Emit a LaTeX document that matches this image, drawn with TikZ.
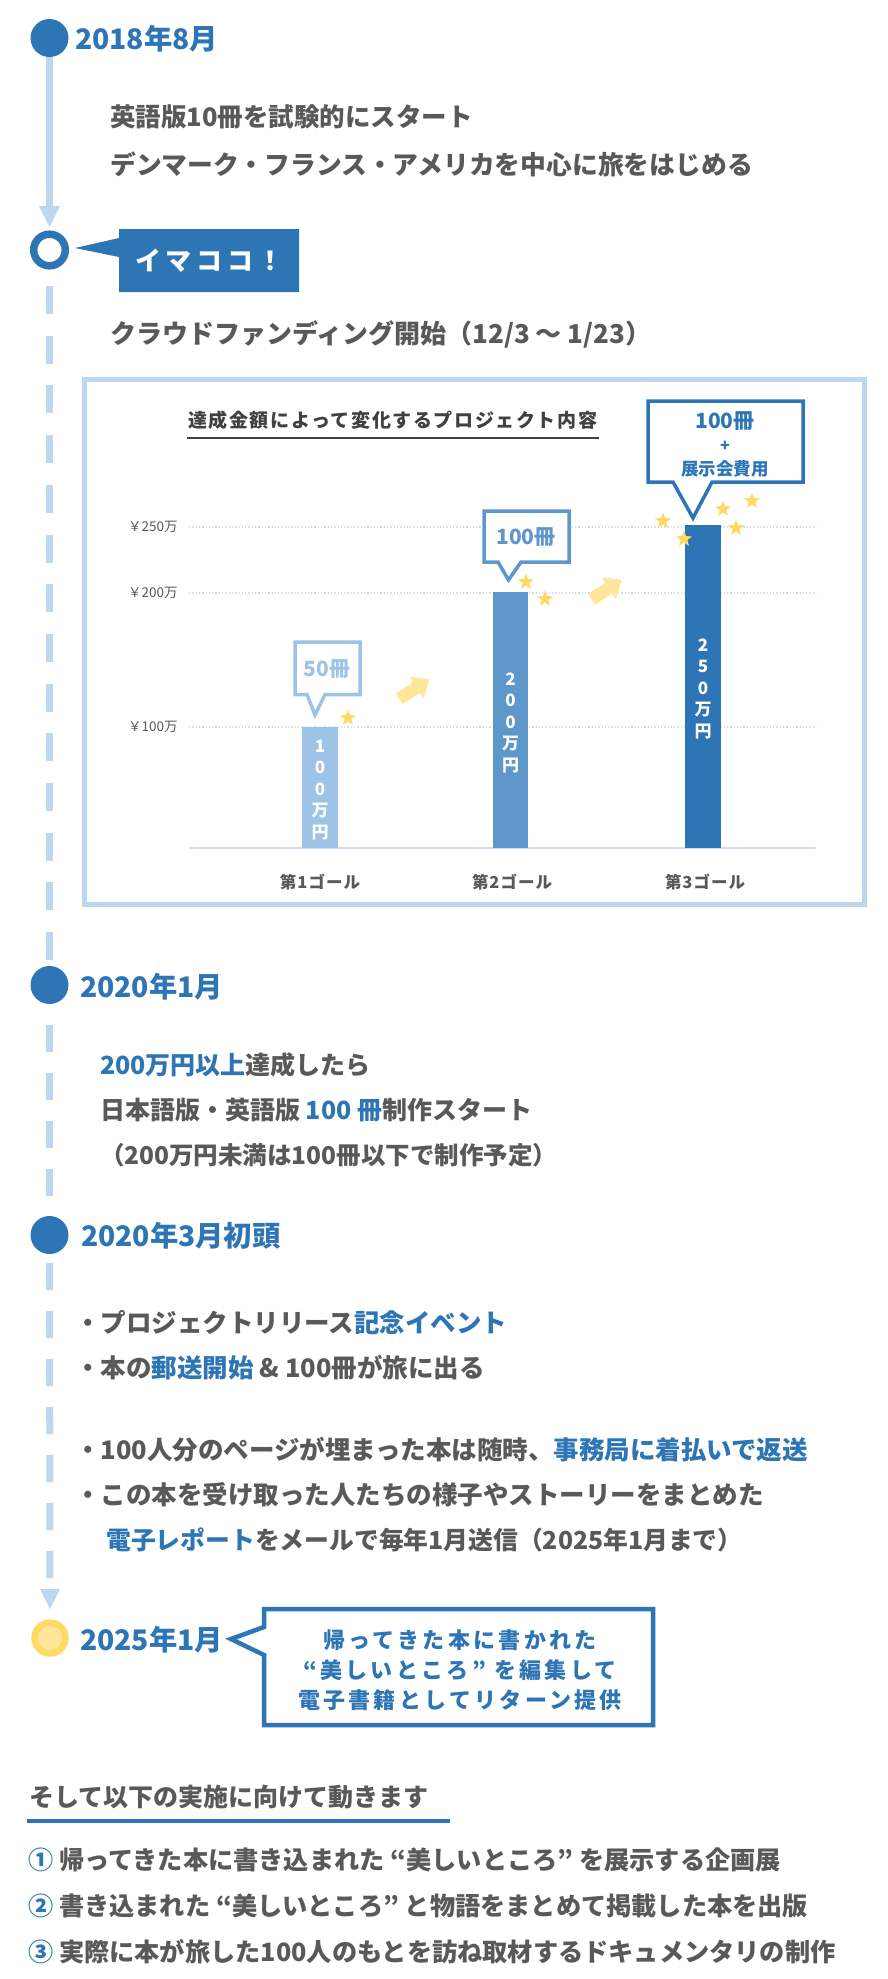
\documentclass[tikz,border=0pt]{standalone}
\usepackage{fontspec}
\setmainfont{Noto Sans CJK JP}
\usetikzlibrary{shapes.geometric}
\definecolor{tblue}{HTML}{2E75B6}
\definecolor{tgray}{HTML}{595959}
\definecolor{dgray}{HTML}{404040}
\definecolor{lineblue}{HTML}{BDD7EE}
\definecolor{barone}{HTML}{9DC3E6}
\definecolor{bartwo}{HTML}{5E97CA}
\definecolor{starc}{HTML}{FFD966}
\definecolor{arrowc}{HTML}{FFE699}
\definecolor{gridc}{HTML}{CFE0F0}
\tikzset{
  fs/.style={font=\fontsize{#1}{#1}\selectfont\bfseries},
  fsl/.style n args={2}{font=\fontsize{#1}{#1}\selectfont\bfseries\addfontfeatures{LetterSpace=#2}},
  heading/.style={fs=28.3, text=tblue, anchor=west, inner sep=0},
  body/.style={fs=25.5, text=tgray, anchor=west, inner sep=0},
  dot/.style={circle, fill=tblue, minimum size=38, inner sep=0},
  tline/.style={draw=lineblue, line width=7, line cap=butt},
  tdash/.style={tline, dash pattern=on 27 off 21},
  bar/.style={minimum width=36, inner sep=0, anchor=south},
  bartext/.style={font=\fontsize{17}{21.5}\selectfont\bfseries, text=white, align=center, inner sep=0},
  ylab/.style={font=\fontsize{13.5}{13.5}\selectfont, text=tgray, anchor=west, inner sep=0},
  goal/.style={fsl={16.5}{6}, text=tgray, inner sep=0},
  starn/.style={star, star points=5, star point ratio=2.4, fill=starc, inner sep=0, minimum size=17},
  item/.style={fs=25.2, text=tgray, anchor=west, inner sep=0},
}
\newcommand{\blockarrow}[2]{%
  \fill[arrowc, shift={#1}, rotate=#2] (-17.85,-6.3) -- (2.65,-6.3) -- (2.65,-13) -- (17.85,0) -- (2.65,13) -- (2.65,6.3) -- (-17.85,6.3) -- cycle;}
\begin{document}
\begin{tikzpicture}[x=1pt, y=-1pt]
\useasboundingbox (0,0) rectangle (888,1979);

% ---------- timeline circles ----------
\node[dot] (c1) at (49.5,38) {};
\node[circle, draw=tblue, line width=7.5, fill=white, minimum size=31.6, inner sep=0] (c2) at (49.5,250) {};
\node[dot] (c3) at (49.5,985) {};
\node[dot] (c4) at (49.5,1235) {};
\node[circle, draw=starc, line width=6.5, fill=arrowc, minimum size=31, inner sep=0] (c5) at (50,1638) {};

% ---------- timeline lines ----------
\coordinate (a1top) at (49.5,206);
\coordinate (a2top) at (50,1589);
\draw[tline] (c1.south) -- (a1top);
\fill[lineblue] (39,206) -- (60,206) -- (49.5,227) -- cycle;
\draw[tline, dash pattern=on 28 off 21.7, dash phase=33.2] (c2.south) -- (c3.north);
\draw[tdash, dash phase=27] (c3.south) -- (c4.north);
\draw[tdash, dash phase=39] (c4.south) -- (a2top);
\fill[lineblue] (40,1589) -- (60,1589) -- (50,1609) -- cycle;

% ---------- 2018 ----------
\node[heading] (h1) at (75,39) {2018年8月};
\node[body] (t1) at (110,117) {英語版10冊を試験的にスタート};
\node[body, fs=25.8] (t2) at (110,164) {デンマーク・フランス・アメリカを中心に旅をはじめる};

% ---------- imakoko ----------
\fill[tblue] (75,248) -- (119,238) -- (119,229) -- (299,229) -- (299,292) -- (119,292) -- (119,257) -- cycle;
\node[fsl={26}{18}, text=white, anchor=west, inner sep=0] (imakoko) at (135,261) {イマココ！};
\node[body, fs=26] (t3) at (110,334) {クラウドファンディング開始（12/3 ～ 1/23）};

% ---------- chart ----------
\draw[lineblue, line width=5, fill=white] (84.5,379) rectangle (864,904.5);
\node[fsl={19}{8.4}, text=dgray, anchor=west, inner sep=0] (ctitle) at (188,420) {達成金額によって変化するプロジェクト内容};
\draw[dgray, line width=2.5] (187,438) -- (599,438);

\foreach \yy in {527,593,727} \draw[gridc, line width=1.3, dotted] (189,\yy) -- (816,\yy);
\draw[gridc, line width=2] (189,848) -- (816,848);
\node[ylab] (y250) at (128,527) {￥250万};
\node[ylab] (y200) at (128,593) {￥200万};
\node[ylab] (y100) at (128,727) {￥100万};

\node[bar, fill=barone, minimum height=121] (b1) at (320,848) {};
\node[bar, fill=bartwo, minimum height=256, minimum width=35] (b2) at (510.5,848) {};
\node[bar, fill=tblue, minimum height=323] (b3) at (703,848) {};
\node[bartext] (bt1) at (320,790) {1\\0\\0\\万\\円};
\node[bartext] (bt2) at (510.5,723) {2\\0\\0\\万\\円};
\node[bartext] (bt3) at (703,689) {2\\5\\0\\万\\円};

\node[goal] (g1) at (320,882) {第1ゴール};
\node[goal] (g2) at (512,882) {第2ゴール};
\node[goal] (g3) at (705,882) {第3ゴール};

% callouts in chart
\draw[barone, line width=3.5, fill=white, line join=miter] (295,642) -- (360,642) -- (360,694.5) -- (325,694.5) -- (315,715) -- (307,694.5) -- (295,694.5) -- cycle;
\node[fs=21, text=barone, inner sep=0] (k1) at (327,669) {50冊};
\draw[bartwo, line width=3.5, fill=white, line join=miter] (484,511) -- (569,511) -- (569,562) -- (521,562) -- (508.5,580) -- (498,562) -- (484,562) -- cycle;
\node[fs=21, text=bartwo, inner sep=0] (k2) at (526,537) {100冊};
\draw[tblue, line width=3.5, fill=white, line join=miter] (648,401) -- (803,401) -- (803,482) -- (712,482) -- (693,518) -- (673,482) -- (648,482) -- cycle;
\node[fs=21, text=tblue, inner sep=0] (k3a) at (725,421) {100冊};
\node[fs=16, text=tblue, inner sep=0] (k3b) at (725,446) {+};
\node[fs=17.5, text=tblue, inner sep=0] (k3c) at (725,469) {展示会費用};

% stars
\node[starn] (s1) at (348,718) {};
\node[starn] (s2) at (526,582) {};
\node[starn] (s3) at (545,599) {};
\node[starn] (s4) at (663,521) {};
\node[starn] (s5) at (684,539) {};
\node[starn] (s6) at (723,509) {};
\node[starn] (s7) at (736,528) {};
\node[starn] (s8) at (752,501) {};

% arrows
\blockarrow{(414.3,689)}{33}
\blockarrow{(606.7,589.6)}{33}

% ---------- 2020/1 ----------
\node[heading] (h3) at (80,987) {2020年1月};
\node[body, fs=25] (t4) at (100,1065) {{\color{tblue}200万円以上}達成したら};
\node[body, fs=25] (t5) at (100,1110) {日本語版・英語版 {\color{tblue}100 冊}制作スタート};
\node[body, fs=24.5] (t6) at (100,1155) {（200万円未満は100冊以下で制作予定）};

% ---------- 2020/3 ----------
\node[heading] (h4) at (81,1236) {2020年3月初頭};
\node[body] (t7) at (75,1323) {・プロジェクトリリース{\color{tblue}記念イベント}};
\node[body] (t8) at (75,1368) {・本の{\color{tblue}郵送開始} \& 100冊が旅に出る};
\node[body] (t9) at (75,1450) {・100人分のページが埋まった本は随時、{\color{tblue}事務局に着払いで返送}};
\node[body] (t10) at (75,1495) {・この本を受け取った人たちの様子やストーリーをまとめた};
\node[body, fs=24.8] (t11) at (106,1540) {{\color{tblue}電子レポート}をメールで毎年1月送信（2025年1月まで）};

% ---------- 2025/1 ----------
\node[heading] (h5) at (80,1640) {2025年1月};
\draw[tblue, line width=4.5, fill=white, line join=miter] (264,1609) -- (653,1609) -- (653,1725) -- (264,1725) -- (264,1655) -- (231,1639) -- (264,1627) -- cycle;
\node[text=tblue, align=center, inner sep=0, font=\fontsize{22}{30}\selectfont\bfseries\addfontfeatures{LetterSpace=15}] (ret) at (460,1670) {帰ってきた本に書かれた\\“美しいところ” を編集して\\電子書籍としてリターン提供};

% ---------- bottom ----------
\node[body, fs=25] (t12) at (29,1797) {そして以下の実施に向けて動きます};
\draw[tblue, line width=4.5] (27,1821) -- (450,1821);
\node[item] (i1) at (28,1860) {{\color{tblue}①} 帰ってきた本に書き込まれた “美しいところ” を展示する企画展};
\node[item] (i2) at (28,1906) {{\color{tblue}②} 書き込まれた “美しいところ” と物語をまとめて掲載した本を出版};
\node[item] (i3) at (28,1952) {{\color{tblue}③} 実際に本が旅した100人のもとを訪ね取材するドキュメンタリの制作};
\end{tikzpicture}
\end{document}
